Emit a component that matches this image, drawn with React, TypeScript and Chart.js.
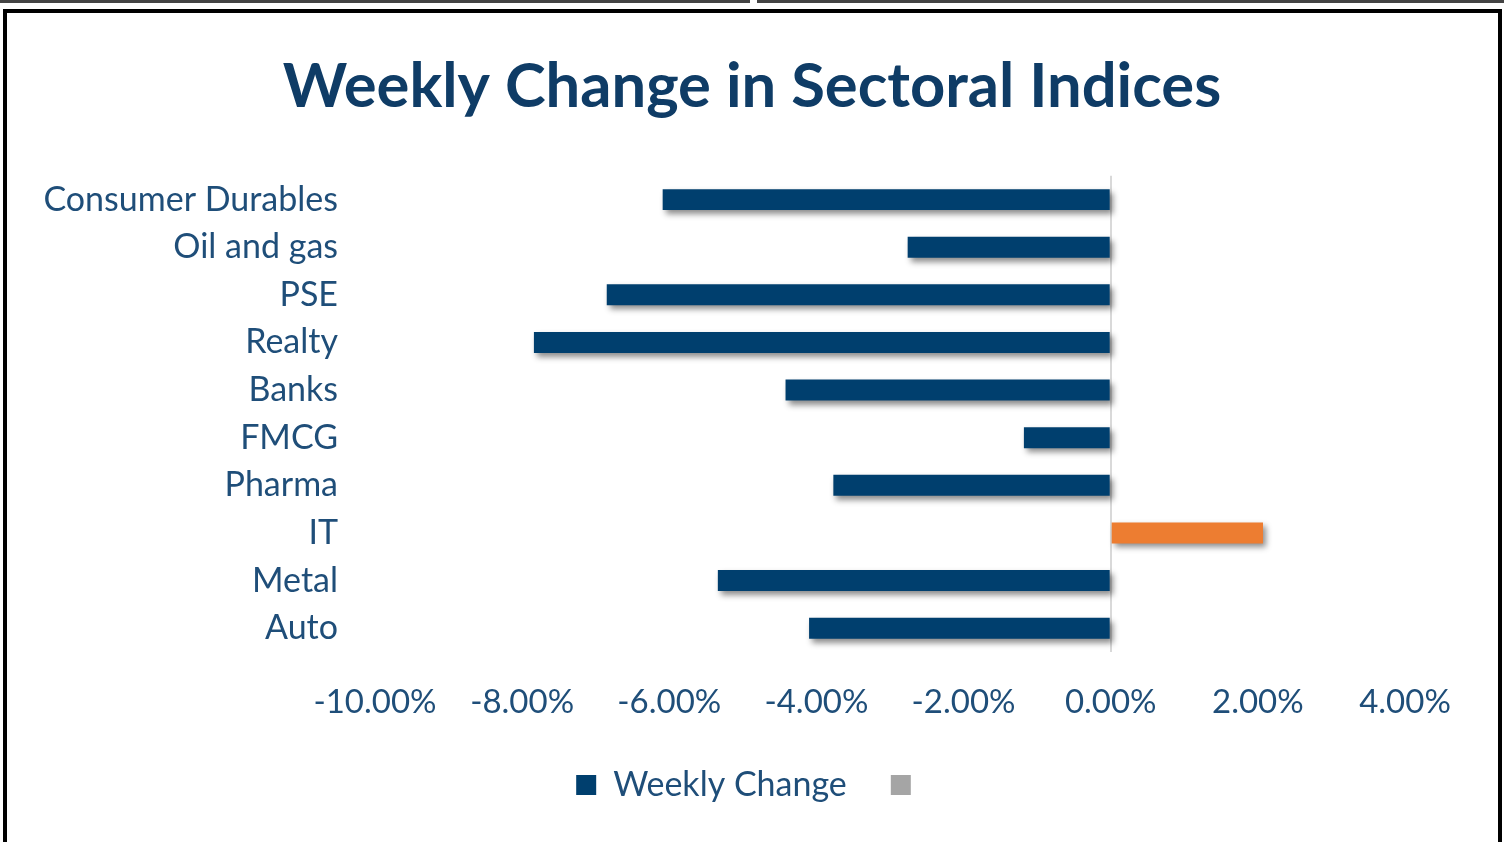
import React, { useEffect, useRef } from "react";
import { Chart, registerables } from "chart.js";

Chart.register(...registerables);

const TITLE = "Weekly Change in Sectoral Indices";
const SERIES_LABEL = "Weekly Change";
const categories = [
  "Consumer Durables",
  "Oil and gas",
  "PSE",
  "Realty",
  "Banks",
  "FMCG",
  "Pharma",
  "IT",
  "Metal",
  "Auto",
];
const weeklyChange = [-6.09, -2.76, -6.85, -7.84, -4.42, -1.18, -3.77, 2.07, -5.34, -4.1];
const xMin = -10;
const xMax = 4;
const xStep = 2;

const NAVY = "#003F6E";
const ORANGE = "#ED7D31";
const GRAY = "#A5A5A5";
const LABEL = "#1F4E79";
const TITLE_COLOR = "#0F3C66";
const FONT = "Lato, 'Open Sans', sans-serif";

const shadowPlugin = {
  id: "barShadow",
  beforeDatasetsDraw(chart: any) {
    const ctx = chart.ctx;
    ctx.save();
    ctx.shadowColor = "rgba(0,0,0,0.45)";
    ctx.shadowBlur = 6;
    ctx.shadowOffsetX = 3;
    ctx.shadowOffsetY = 4;
  },
  afterDatasetsDraw(chart: any) {
    chart.ctx.restore();
  },
};

export default function App() {
  const ref = useRef<HTMLCanvasElement | null>(null);

  useEffect(() => {
    if (!ref.current) return;
    const chart = new Chart(ref.current, {
      type: "bar",
      data: {
        labels: categories,
        datasets: [
          {
            label: SERIES_LABEL,
            data: weeklyChange,
            xAxisID: "x",
            yAxisID: "y",
            backgroundColor: weeklyChange.map((v) => (v >= 0 ? ORANGE : NAVY)),
            categoryPercentage: 1,
            barPercentage: 0.44,
          },
        ],
      },
      options: {
        indexAxis: "y",
        animation: false,
        responsive: false,
        devicePixelRatio: 1,
        layout: { padding: { left: 30, right: 30, top: 0, bottom: 30 } },
        plugins: {
          tooltip: { enabled: false },
          title: {
            display: true,
            text: TITLE,
            color: TITLE_COLOR,
            font: { family: FONT, size: 61.5, weight: "bold" },
            padding: { top: 50, bottom: 52 },
          },
          legend: {
            position: "bottom",
            labels: {
              color: LABEL,
              font: { family: FONT, size: 34 },
              boxWidth: 20,
              boxHeight: 20,
              padding: 44,
              generateLabels: () => [
                { text: SERIES_LABEL, fillStyle: NAVY, strokeStyle: NAVY, fontColor: LABEL, lineWidth: 0, hidden: false, datasetIndex: 0 } as any,
                { text: "", fillStyle: GRAY, strokeStyle: GRAY, fontColor: LABEL, lineWidth: 0, hidden: false } as any,
              ],
            },
          },
        },
        scales: {
          x: {
            type: "linear",
            min: xMin,
            max: xMax,
            border: { display: false },
            grid: {
              drawTicks: false,
              lineWidth: 2,
              color: (c: any) => (c.tick && c.tick.value === 0 ? "#D9D9D9" : "rgba(0,0,0,0)"),
            },
            ticks: {
              stepSize: xStep,
              padding: 31,
              color: LABEL,
              font: { family: FONT, size: 33 },
              callback: (v: any) => Number(v).toFixed(2) + "%",
            },
            afterFit: (s: any) => {
              s.height = 72;
            },
          },
          y: {
            type: "category",
            position: "left",
            border: { display: false },
            grid: { display: false, drawTicks: false },
            ticks: {
              padding: 37,
              color: LABEL,
              font: { family: FONT, size: 34 },
            },
            afterFit: (s: any) => {
              s.width = 345;
            },
          },
          yRight: {
            type: "category",
            position: "right",
            border: { display: false },
            grid: { display: false, drawTicks: false },
            ticks: { display: false },
            afterFit: (s: any) => {
              s.width = 69;
            },
          },
        },
      } as any,
      plugins: [shadowPlugin],
    });
    return () => chart.destroy();
  }, []);

  return (
    <div style={{ position: "absolute", left: 0, top: 0, width: 1504, height: 842, overflow: "hidden", background: "#fff" }}>
      <div style={{ position: "absolute", left: 0, top: 0, width: 750, height: 3, background: "#444" }} />
      <div style={{ position: "absolute", left: 757, top: 0, width: 747, height: 3, background: "#444" }} />
      <div
        style={{
          position: "absolute",
          left: 3,
          top: 9,
          width: 1499,
          height: 900,
          border: "4px solid #000",
          boxSizing: "border-box",
        }}
      />
      <canvas ref={ref} width={1504} height={842} style={{ position: "absolute", left: 0, top: 0 }} />
    </div>
  );
}
